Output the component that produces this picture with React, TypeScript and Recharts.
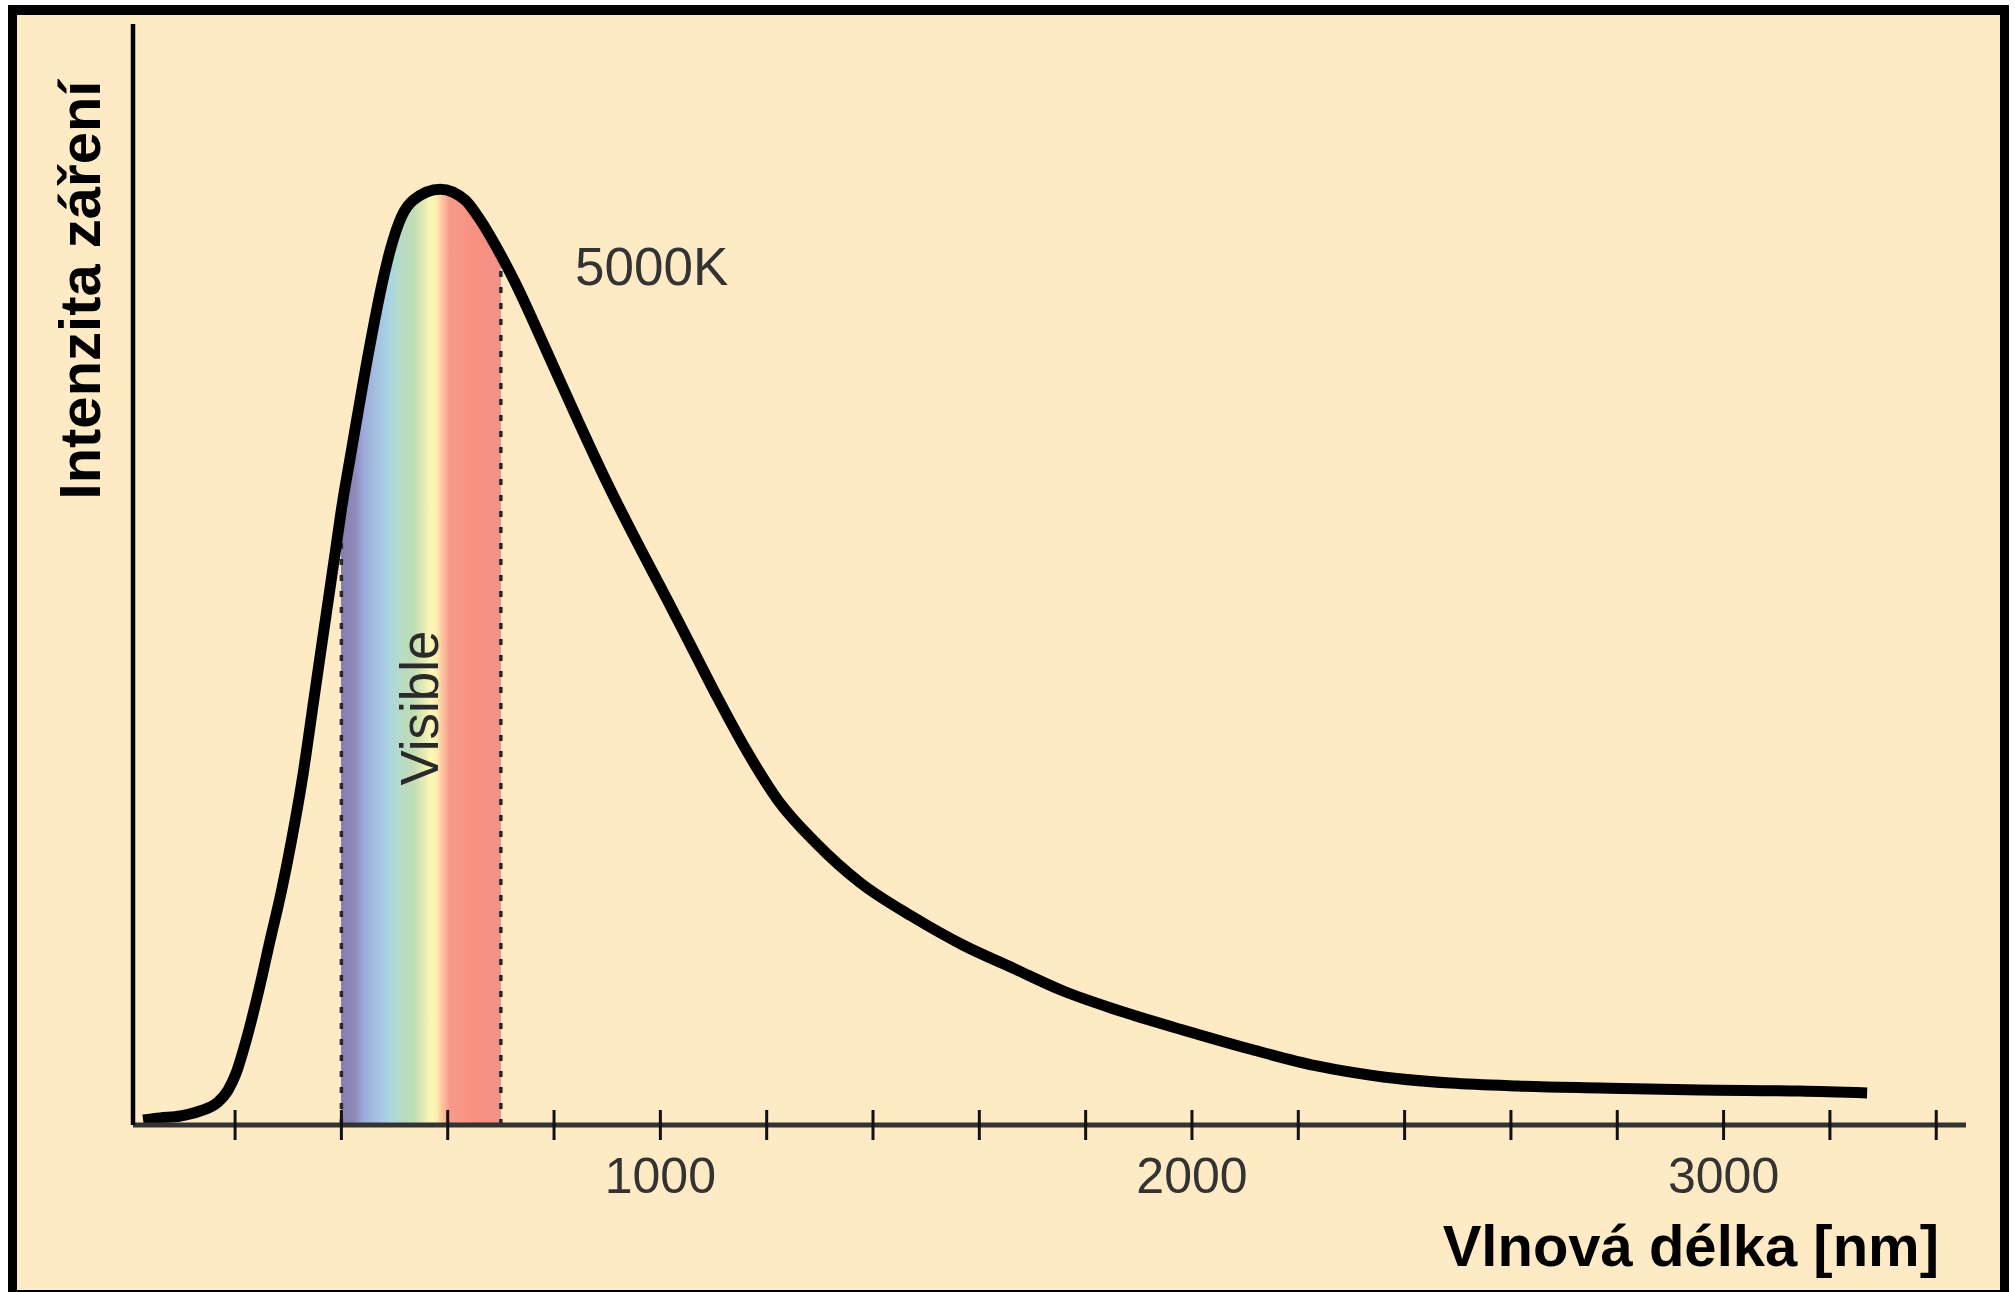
import { ComposedChart, Area, Line, XAxis, YAxis, ReferenceLine } from "recharts";

// wavelength [nm] and relative intensity
const wavelengths = [
  27, 59, 97, 134, 166, 187, 202, 221, 245, 266, 287, 306, 328, 346, 363, 389, 400, 419, 452, 477,
  492, 513, 535, 586, 633, 657, 700, 727, 785, 842, 900, 964, 1013, 1062, 1110, 1161, 1221, 1293,
  1376, 1475, 1569, 1663, 1758, 1859, 1983, 2109, 2235, 2360, 2486, 2612, 2768, 2956, 3144, 3270,
];
const intensity = [
  0.45, 0.64, 0.82, 1.27, 2.0, 3.18, 4.72, 7.72, 12.3, 16.8, 21.2, 25.8, 31.9, 37.9, 43.6, 52.2,
  55.9, 61.3, 70.4, 76.5, 79.5, 82.5, 84.0, 85.0, 84.0, 82.5, 79.0, 76.5, 70.4, 64.3, 58.3, 52.2,
  47.7, 43.1, 38.6, 34.1, 29.5, 25.6, 22.0, 18.9, 16.35, 14.26, 12.17, 10.45, 8.63, 6.9, 5.36,
  4.36, 3.81, 3.54, 3.36, 3.18, 3.09, 2.91,
];
const tickValues = [
  200, 400, 600, 800, 1000, 1200, 1400, 1600, 1800, 2000, 2200, 2400, 2600, 2800, 3000, 3200, 3400,
];
const tickLabels = [1000, 2000, 3000];
const visibleRange = [400, 700];

// colours across the visible band, 0 = 400 nm, 1 = 700 nm
const spectrum: [number, string][] = [
  [0, "#857fae"],
  [0.08, "#8c88b8"],
  [0.14, "#9eaadb"],
  [0.24, "#a6c6e2"],
  [0.3, "#aad4e4"],
  [0.37, "#b6dcc4"],
  [0.45, "#c0dcb4"],
  [0.52, "#e4ecb4"],
  [0.56, "#fcf8b8"],
  [0.6, "#fcecb0"],
  [0.63, "#fcc8a0"],
  [0.68, "#f89a8a"],
  [0.85, "#f8907f"],
  [1, "#f0928a"],
];

const FONT = '"Liberation Sans", Arial, Helvetica, sans-serif';

const rows = wavelengths.map((nm, i) => ({ nm, intensity: intensity[i] }));

const edgeValue = (nm: number) => intensity[wavelengths.indexOf(nm)];

// gradient spans the whole area, transparent outside the visible band
const first = wavelengths[0];
const last = wavelengths[wavelengths.length - 1];
const f0 = (visibleRange[0] - first) / (last - first);
const f1 = (visibleRange[1] - first) / (last - first);

function AxisTick(props: any) {
  const { x, y, payload } = props;
  const v = payload.value;
  return (
    <g>
      <line x1={x} x2={x} y1={y - 15} y2={y + 15} stroke="#111" strokeWidth={3} />
      {tickLabels.includes(v) && (
        <text x={x} y={y + 68} textAnchor="middle" fontSize={50} fill="#333" fontFamily={FONT}>
          {v}
        </text>
      )}
    </g>
  );
}

export default function App() {
  return (
    <div style={{ position: "absolute", left: 0, top: 0, width: 2015, height: 1292, background: "#fff" }}>
      <div
        style={{
          position: "absolute",
          left: 8,
          top: 5,
          width: 2001,
          height: 1287,
          boxSizing: "border-box",
          borderStyle: "solid",
          borderColor: "#000",
          borderWidth: "10px 9px 2px 9px",
          background: "#FEEAC5",
        }}
      />
      <div style={{ position: "absolute", left: 0, top: 0 }}>
        <ComposedChart
          width={2015}
          height={1292}
          data={rows}
          margin={{ top: 24, right: 49, bottom: 107, left: 132 }}
        >
          <defs>
            <linearGradient id="spectrum" x1="0" y1="0" x2="1" y2="0">
              <stop offset={0} stopColor="#fff" stopOpacity={0} />
              <stop offset={f0} stopColor="#fff" stopOpacity={0} />
              {spectrum.map(([o, c], i) => (
                <stop key={i} offset={f0 + o * (f1 - f0)} stopColor={c} stopOpacity={1} />
              ))}
              <stop offset={f1} stopColor="#fff" stopOpacity={0} />
              <stop offset={1} stopColor="#fff" stopOpacity={0} />
            </linearGradient>
          </defs>
          <XAxis
            dataKey="nm"
            type="number"
            domain={[8, 3456]}
            allowDataOverflow
            ticks={tickValues}
            interval={0}
            tickLine={false}
            tickSize={0}
            tickMargin={0}
            height={60}
            axisLine={{ stroke: "#333", strokeWidth: 5 }}
            tick={(p: any) => <AxisTick {...p} />}
          />
          <YAxis
            type="number"
            domain={[0, 100]}
            width={1}
            tick={false}
            tickLine={false}
            axisLine={{ stroke: "#000", strokeWidth: 4.5 }}
          />
          <Area
            dataKey="intensity"
            type="monotone"
            stroke="none"
            fill="url(#spectrum)"
            fillOpacity={1}
            dot={false}
            activeDot={false}
            isAnimationActive={false}
          />
          {visibleRange.map((nm) => (
            <ReferenceLine
              key={nm}
              segment={[
                { x: nm, y: 0 },
                { x: nm, y: edgeValue(nm) },
              ]}
              stroke="#2a2a2a"
              strokeWidth={3.5}
              strokeDasharray="6 10"
            />
          ))}
          <Line
            dataKey="intensity"
            type="monotone"
            stroke="#000"
            strokeWidth={11}
            dot={false}
            activeDot={false}
            isAnimationActive={false}
          />
        </ComposedChart>
      </div>
      <svg
        width={2015}
        height={1292}
        style={{ position: "absolute", left: 0, top: 0, pointerEvents: "none" }}
        fontFamily={FONT}
      >
        <text x={575} y={285} fontSize={53} fill="#333">
          5000K
        </text>
        <text transform="translate(438,708) rotate(-90)" textAnchor="middle" fontSize={53} fill="#2a2a2a">
          Visible
        </text>
        <text transform="translate(100,290) rotate(-90)" textAnchor="middle" fontSize={58} fontWeight="bold" fill="#000">
          Intenzita záření
        </text>
        <text x={1939} y={1266} textAnchor="end" fontSize={58} fontWeight="bold" fill="#000">
          Vlnová délka [nm]
        </text>
      </svg>
    </div>
  );
}
